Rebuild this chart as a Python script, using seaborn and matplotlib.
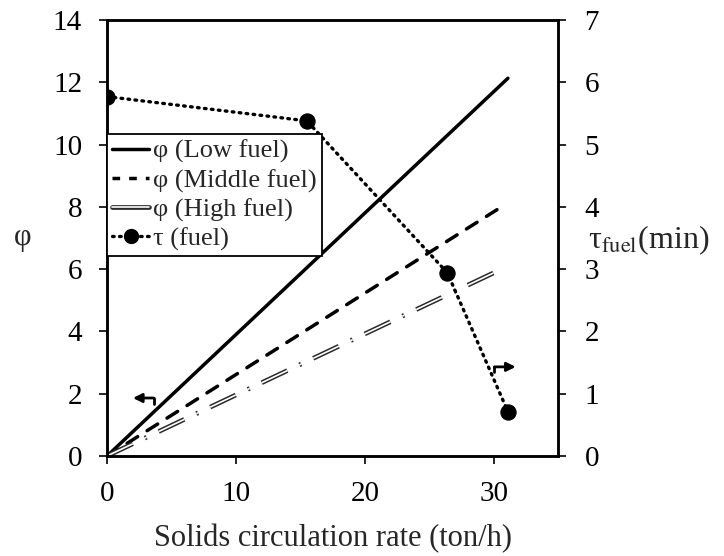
import matplotlib
matplotlib.use("Agg")
import matplotlib.pyplot as plt
import matplotlib.patheffects as pe
from matplotlib.lines import Line2D
import seaborn as sns

# ---- data ----
low_x = [0, 31.1]
low_phi = [0, 12.13]
mid_x = [0, 30.6]
mid_phi = [0, 8.0]
high_x = [0, 30.1]
high_phi = [0, 5.9]
tau_x = [0, 15.5, 26.4, 31.1]
tau_min = [5.77, 5.38, 2.94, 0.71]

x_ticks = [0, 10, 20, 30]
phi_ticks = [0, 2, 4, 6, 8, 10, 12, 14]
tau_ticks = [0, 1, 2, 3, 4, 5, 6, 7]

sns.set_style("ticks")
plt.rcParams['font.family'] = ['Liberation Serif', 'DejaVu Serif']
plt.rcParams['mathtext.fontset'] = 'stix'

fig = plt.figure(figsize=(7.24, 5.56), dpi=100)
ax = fig.add_axes([0.148, 0.18, 0.623, 0.784])
ax2 = ax.twinx()

sns.lineplot(x=low_x, y=low_phi, ax=ax, color='black', lw=2.5, solid_capstyle='round')
sns.lineplot(x=mid_x, y=mid_phi, ax=ax, color='black', lw=2.5, linestyle=(0, (3.6, 3.2)),
             dash_capstyle='round')
hl = sns.lineplot(x=high_x, y=high_phi, ax=ax, color='white', lw=1.2,
                  linestyle=(0, (17, 8, 1.2, 8)))
hl.lines[-1].set_path_effects([pe.Stroke(linewidth=3.4, foreground='#2a2a2a'), pe.Normal()])

sns.lineplot(x=tau_x, y=tau_min, ax=ax2, color='black', lw=2.4, linestyle=(0, (0.5, 1.6)),
             dash_capstyle='round', marker='o', markersize=11, markeredgecolor='black')

ax.set_xlim(0, 35)
ax.set_ylim(0, 14)
ax2.set_ylim(0, 7)
ax.set_xticks(x_ticks)
ax.set_yticks(phi_ticks)
ax2.set_yticks(tau_ticks)

for a in (ax, ax2):
    for s in a.spines.values():
        s.set_linewidth(1.8)
        s.set_color('black')
    a.tick_params(direction='out', length=6, width=1.2, labelsize=21, colors='black')
ax.tick_params(axis='x', pad=12)
ax.tick_params(axis='y', pad=12)
ax2.tick_params(axis='y', pad=13)

ax.set_xlabel("Solids circulation rate (ton/h)", fontsize=22, labelpad=12)
ax.set_ylabel("φ", fontsize=22, rotation=0, va='center', ha='center')
ax.yaxis.set_label_coords(-0.188, 0.5)
ax2.set_ylabel(r"τ$_{\mathrm{fuel}}$(min)", fontsize=23, rotation=0, va='center', ha='left')
ax2.yaxis.set_label_coords(1.065, 0.495)

# direction arrows
ax.annotate("", xy=(2.0, 1.86), xytext=(3.6, 1.86),
            arrowprops=dict(arrowstyle="-|>", color='black', lw=2, mutation_scale=13,
                            shrinkA=0, shrinkB=0))
ax.plot([3.6, 3.6], [1.86, 1.66], color='black', lw=2)
ax.annotate("", xy=(31.7, 2.86), xytext=(30.05, 2.86),
            arrowprops=dict(arrowstyle="-|>", color='black', lw=2, mutation_scale=13,
                            shrinkA=0, shrinkB=0))
ax.plot([30.05, 30.05], [2.86, 2.68], color='black', lw=2)

# legend
high_handle = Line2D([], [], color='white', lw=1.2,
                     path_effects=[pe.Stroke(linewidth=3.4, foreground='#2a2a2a'), pe.Normal()])
handles = [Line2D([], [], color='black', lw=2.5),
           Line2D([], [], color='black', lw=2.5, linestyle=(0, (2.2, 2.6))),
           high_handle,
           Line2D([], [], color='black', lw=2.4, linestyle=(0, (0.5, 1.6)), marker='o',
                  markersize=10, dash_capstyle='round')]
labels = ["φ (Low fuel)", "φ (Middle fuel)", "φ (High fuel)", "τ (fuel)"]
for a in (ax, ax2):
    lg = a.get_legend()
    if lg is not None:
        lg.remove()
leg = ax2.legend(handles, labels, loc='upper left', bbox_to_anchor=(0.0, 0.738),
                 fontsize=19, frameon=True, fancybox=False, framealpha=1,
                 edgecolor='black', handlelength=1.4, handletextpad=0.15,
                 borderpad=0.2, labelspacing=0.2, borderaxespad=0)
leg.get_frame().set_linewidth(1.3)

fig.savefig("out.png", dpi=100)
